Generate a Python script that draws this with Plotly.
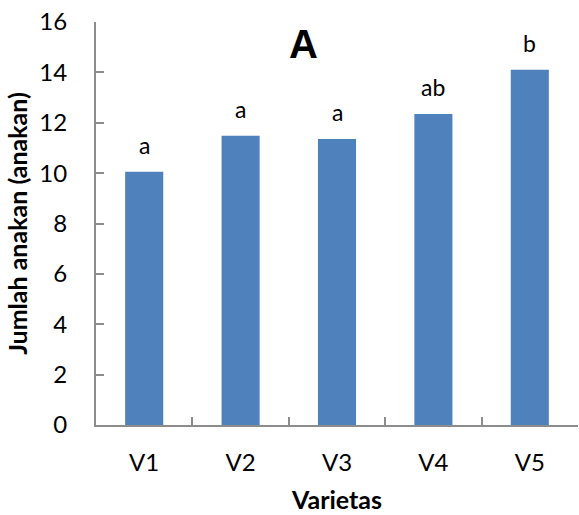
import plotly.graph_objects as go

# Mean tiller count per variety with significance letters
varieties = ["V1", "V2", "V3", "V4", "V5"]
tillers = [10.05, 11.48, 11.35, 12.35, 14.1]
letters = ["a", "a", "a", "ab", "b"]
y_ticks = [0, 2, 4, 6, 8, 10, 12, 14, 16]

FONT = "Lato, 'Open Sans', sans-serif"
AXIS_GRAY = "#8c8c8c"

fig = go.Figure(
    go.Bar(
        x=varieties,
        y=tillers,
        marker=dict(color="#4f81bd", line=dict(width=0)),
        width=0.395,
        hoverinfo="x+y",
    )
)

# Significance letters sit just above each bar
letter_notes = [
    dict(
        x=v, y=val, xref="x", yref="y",
        text=lab, showarrow=False,
        yanchor="bottom", yshift=11,
        font=dict(family=FONT, size=23, color="#000000"),
    )
    for v, val, lab in zip(varieties, tillers, letters)
]

fig.update_layout(
    width=579,
    height=515,
    margin=dict(l=96, r=1, t=22, b=90),
    paper_bgcolor="white",
    plot_bgcolor="white",
    showlegend=False,
    font=dict(family=FONT, color="#000000"),
    annotations=letter_notes + [
        dict(
            text="<b>A</b>",
            x=0.43, xref="paper",
            y=0.945, yref="paper",
            showarrow=False,
            font=dict(family="Liberation Sans, Arial, sans-serif", size=40, color="#000000"),
            xanchor="center", yanchor="middle",
        )
    ],
)

fig.update_xaxes(
    showline=True,
    linecolor=AXIS_GRAY,
    linewidth=2,
    ticks="inside",
    ticklen=8,
    tickcolor=AXIS_GRAY,
    tickwidth=1.5,
    tickson="boundaries",
    tickfont=dict(family=FONT, size=24),
    ticklabelstandoff=15,
    title=dict(text="<b>Varietas</b>", font=dict(family=FONT, size=25), standoff=17),
    showgrid=False,
)

fig.update_yaxes(
    range=[0, 16],
    tickvals=y_ticks,
    showline=True,
    linecolor=AXIS_GRAY,
    linewidth=2,
    ticks="inside",
    ticklen=8,
    tickcolor=AXIS_GRAY,
    tickwidth=1.5,
    tickfont=dict(family=FONT, size=24),
    ticklabelstandoff=22,
    title=dict(text="<b>Jumlah anakan (anakan)</b>", font=dict(family=FONT, size=25), standoff=5),
    showgrid=False,
    zeroline=False,
)

fig.write_html("out.html")
